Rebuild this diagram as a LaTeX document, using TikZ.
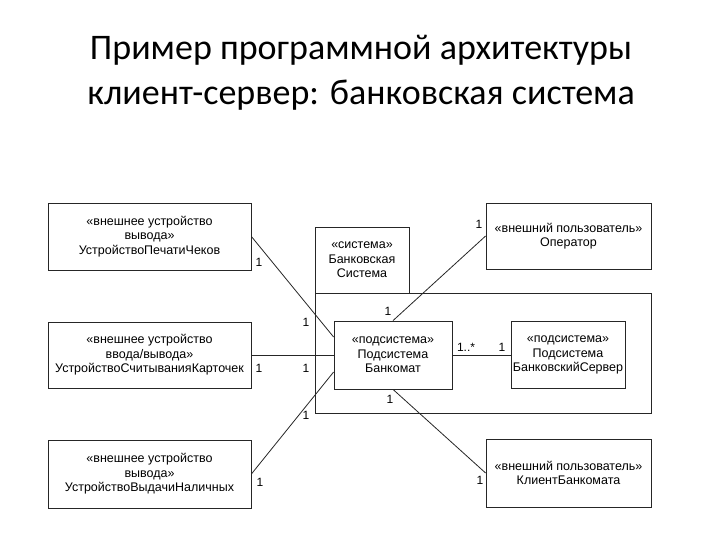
\documentclass[tikz,border=0pt]{standalone}
\usepackage{fontspec}
\setmainfont{Liberation Sans}
\newfontfamily\titlefont{Carlito}
\usetikzlibrary{positioning}

\begin{document}
\begin{tikzpicture}[x=1pt, y=-1pt,
  box/.style={rectangle, draw=black!85, line width=0.8pt, minimum width=#1, inner sep=1pt, align=center,
    font=\fontsize{12.5}{14.5}\selectfont},
  mult/.style={inner sep=0pt, font=\fontsize{12}{14}\selectfont},
  link/.style={draw=black!85, line width=0.8pt}
]
  \useasboundingbox (0,0) rectangle (720,540);

  % title
  \node[font=\titlefont\fontsize{36}{45}\selectfont, align=center] (title) at (361,73)
    {Пример программной архитектуры\\клиент-сервер: банковская система};

  % package
  \node[box=94pt, minimum height=66pt] (tab) at (362,260) {«система»\\Банковская\\Система};
  \node[box=336pt, minimum height=120pt] (pkg) at (483,353) {};

  % subsystems
  \node[box=118pt, minimum height=68pt] (atm) at (393,355) {«подсистема»\\Подсистема\\Банкомат};
  \node[box=114pt, minimum height=67pt] (srv) at (568,355) {«подсистема»\\Подсистема\\БанковскийСервер};

  % devices
  \node[box=203pt, minimum height=67pt] (dev1) at (149.5,236.5) {«внешнее устройство\\вывода»\\УстройствоПечатиЧеков};
  \node[box=203pt, minimum height=66pt] (dev2) at (149.5,355) {«внешнее устройство\\ввода/вывода»\\УстройствоСчитыванияКарточек};
  \node[box=203pt, minimum height=68pt] (dev3) at (149.5,474) {«внешнее устройство\\вывода»\\УстройствоВыдачиНаличных};

  % users
  \node[box=165pt, minimum height=66pt] (oper) at (568.5,236) {«внешний пользователь»\\Оператор};
  \node[box=165pt, minimum height=68pt] (client) at (568.5,473) {«внешний пользователь»\\КлиентБанкомата};

  % links
  \draw[link] (dev1.east) -- ([yshift=18pt]atm.west);
  \draw[link] (dev2.east) -- (atm.west);
  \draw[link] (dev3.east) -- ([yshift=-17pt]atm.west);
  \draw[link] (oper.west) -- (atm.north);
  \draw[link] (atm.south) -- (client.west);
  \draw[link] (atm.east) -- (srv.west);

  % multiplicities
  \node[mult] (m1a) at (259,262) {1};
  \node[mult] (m1b) at (306,322) {1};
  \node[mult] (m2a) at (259,368) {1};
  \node[mult] (m2b) at (306,368) {1};
  \node[mult] (m3a) at (260,482) {1};
  \node[mult] (m3b) at (306,415) {1};
  \node[mult] (m4a) at (479,224) {1};
  \node[mult] (m4b) at (388,311) {1};
  \node[mult] (m5a) at (390,399) {1};
  \node[mult] (m5b) at (480,480) {1};
  \node[mult] (m6a) at (466,347) {1..*};
  \node[mult] (m6b) at (502,347) {1};
\end{tikzpicture}
\end{document}
